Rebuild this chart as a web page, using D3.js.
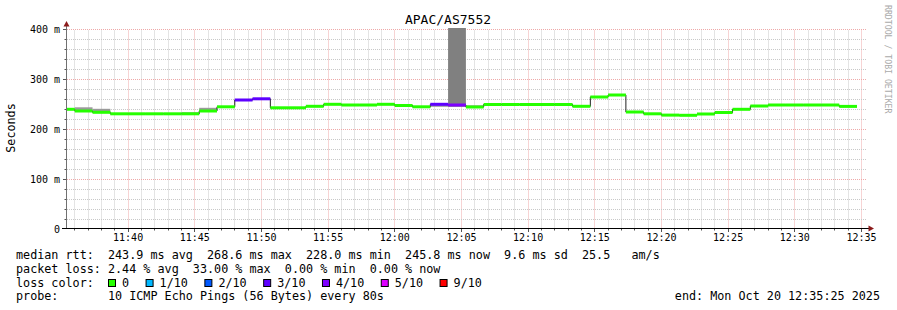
<!DOCTYPE html>
<html><head><meta charset="utf-8">
<script src="https://cdn.jsdelivr.net/npm/d3@7"></script>
<style>
body{margin:0;background:#fff}
svg{display:block}
text{font-family:"DejaVu Sans Mono",monospace;fill:#000;white-space:pre}
</style>
</head><body><svg id="c" width="897" height="310"></svg>
<script>
// ---------------- data ----------------
const chartTitle = "APAC/AS7552";
const yAxisTitle = "Seconds";
const watermark = "RRDTOOL / TOBI OETIKER";
const rangeStart = "11:35:25";
const rangeEnd = "12:35:25";
const stepSeconds = 80;
const pings = 10;
// end time of each 80 s step
const stepEnds = ["11:36:00","11:37:20","11:38:40","11:40:00","11:41:20","11:42:40","11:44:00","11:45:20","11:46:40","11:48:00",
  "11:49:20","11:50:40","11:52:00","11:53:20","11:54:40","11:56:00","11:57:20","11:58:40","12:00:00","12:01:20",
  "12:02:40","12:04:00","12:05:20","12:06:40","12:08:00","12:09:20","12:10:40","12:12:00","12:13:20","12:14:40",
  "12:16:00","12:17:20","12:18:40","12:20:00","12:21:20","12:22:40","12:24:00","12:25:20","12:26:40","12:28:00",
  "12:29:20","12:30:40","12:32:00","12:33:20","12:34:40"];
// median rtt in ms
const medianMs = [240,236.6,234,231,231,231,231,231,236.6,245,
  258.6,261,243,243,246,250,248.6,248.6,250,247.6,
  245,250,248.6,244.6,249.6,249.6,249.6,249.6,249.6,246,
  264.6,268.6,234.6,231,228.4,228,230.6,233.6,240,246.6,
  248.6,248.6,248.6,248.6,245.8];
// packet loss in %
const lossPct = [0,0,0,0,0,0,0,0,0,0,
  25,26,0,0,0,0,0,0,0,0,
  0,26,33,0,0,0,0,0,0,0,
  0,0,0,0,0,0,0,0,0,0,
  0,0,0,0,0];
// smoke (spread of individual pings) low / high in ms
const smokeLoMs = [239,235.6,233,230,230,230,230,230,235.6,244,
  257.6,260,242,242,245,249,247.6,247.6,249,244.6,
  242.6,245,245,243.6,248.6,248.6,248.6,248.6,248.6,245,
  263.6,267.6,233.6,230,227.4,227,229.6,232.6,239,245.6,
  247.6,247.6,247.6,247.6,244.8];
const smokeHiMs = [241,244,241,232,232,232,232,234,243,246,
  259.6,262,244,244,247,251,249.6,249.6,251,248.6,
  246,251,420,248,250.6,250.6,250.6,250.6,250.6,247,
  265.6,269.6,235.6,232,229.4,229,231.6,234.6,241,247.6,
  249.6,249.6,249.6,249.6,246.8];
const yTicks = [0,100,200,300,400];
const yTickLabels = ["0","100 m","200 m","300 m","400 m"];
const xTickLabels = ["11:40","11:45","11:50","11:55","12:00","12:05","12:10","12:15","12:20","12:25","12:30","12:35"];
const lossLevels = [0,1,2,3,4,5,9];
const lossLabels = ["0","1/10","2/10","3/10","4/10","5/10","9/10"];
const lossColors = ["#26ff00","#00b8ff","#0059ff","#5e00ff","#7e00ff","#dd00ff","#ff0000"];
const statsLine = "median rtt:  243.9 ms avg  268.6 ms max  228.0 ms min  245.8 ms now  9.6 ms sd  25.5   am/s";
const lossLine = "packet loss: 2.44 % avg  33.00 % max  0.00 % min  0.00 % now";
const probeLine = "probe:       10 ICMP Echo Pings (56 Bytes) every 80s";
const endLine = "end: Mon Oct 20 12:35:25 2025";

// ---------------- drawing ----------------
const svg = d3.select("#c");
const parseT = s => { const [h,m,sec] = s.split(":").map(Number); return new Date(2025,9,20,h,m,sec); };
const t0 = parseT(rangeStart), t1 = parseT(rangeEnd);
const X0 = 67, X1 = 867, Y0 = 229.3, YT = 29.3;
const x = d3.scaleTime().domain([t0,t1]).range([X0,X1]);
const y = d3.scaleLinear().domain([0,400]).range([Y0,YT]);
const snap = v => Math.round(v - 0.5) + 0.5;

const steps = stepEnds.map((s,i) => {
  const end = parseT(s);
  return {start:new Date(end.getTime()-stepSeconds*1000), end, med:medianMs[i], loss:lossPct[i], lo:smokeLoMs[i], hi:smokeHiMs[i]};
});

// grid
const grid = svg.append("g");
const minorMins = d3.timeMinute.range(d3.timeMinute.ceil(t0), t1);
minorMins.forEach(t => {
  const major = t.getMinutes() % 5 === 0;
  const xx = snap(x(t));
  grid.append("line").attr("x1",xx).attr("x2",xx).attr("y1",snap(Y0)).attr("y2",snap(YT))
    .attr("stroke", major ? "#eea8a8" : "#c8c8c8").attr("stroke-dasharray","1,1");
  grid.append("line").attr("x1",xx).attr("x2",xx).attr("y1",228.5).attr("y2", major?232:230.5)
    .attr("stroke","#555");
});
d3.range(20,401,20).forEach(v => {
  const major = v % 100 === 0;
  const yy = snap(y(v));
  grid.append("line").attr("x1",X0).attr("x2",X1).attr("y1",yy).attr("y2",yy)
    .attr("stroke", major ? "#eea8a8" : "#c8c8c8").attr("stroke-dasharray","1,1");
  grid.append("line").attr("x1", major?63:64.5).attr("x2",66).attr("y1",yy).attr("y2",yy).attr("stroke","#555");
});

// clip
svg.append("clipPath").attr("id","pc").append("rect").attr("x",X0).attr("y",28).attr("width",X1-X0).attr("height",Y0-28);
const plot = svg.append("g").attr("clip-path","url(#pc)");

// smoke
plot.selectAll("rect.smoke").data(steps).join("rect").attr("class","smoke")
  .attr("x", d => x(d.start)).attr("width", d => x(d.end)-x(d.start))
  .attr("y", d => y(d.hi)).attr("height", d => Math.max(0, y(d.lo)-y(d.hi)))
  .attr("fill", d => d.hi > 300 ? "#808080" : "#9a9a9a");

// median thin line
const pts = steps.map(d => [d.start, d.med]).concat([[steps[steps.length-1].end, steps[steps.length-1].med]]);
plot.append("path").attr("d", d3.line().x(d => x(d[0])).y(d => y(d[1])).curve(d3.curveStepAfter)(pts))
  .attr("fill","none").attr("stroke","#202020").attr("stroke-width",1);

// loss colored bands
const colorFor = l => {
  const n = l/100*pings; let last = -1;
  for (let i=0;i<lossLevels.length;i++){ if (n > last && n <= lossLevels[i]) return lossColors[i]; last = lossLevels[i]; }
  return lossColors[lossColors.length-1];
};
plot.selectAll("rect.band").data(steps).join("rect").attr("class","band")
  .attr("x", d => x(d.start)).attr("width", d => x(d.end)-x(d.start))
  .attr("y", d => y(d.med)-1.5).attr("height",3).attr("fill", d => colorFor(d.loss));

// axes
svg.append("line").attr("x1",66.5).attr("x2",66.5).attr("y1",229).attr("y2",25).attr("stroke","#707070");
svg.append("line").attr("x1",62).attr("x2",869).attr("y1",228.5).attr("y2",228.5).attr("stroke","#000");
svg.append("path").attr("d","M66.5,21 L69.5,26.5 L63.5,26.5 Z").attr("fill","#8b1a1a");
svg.append("path").attr("d","M874,228.5 L868.5,225.5 L868.5,231.5 Z").attr("fill","#8b1a1a");

// tick labels
yTicks.forEach((v,i) => {
  svg.append("text").attr("x", 60).attr("y", y(v)+3.5).attr("text-anchor","end")
    .style("font-size","10px").text(yTickLabels[i]);
});
xTickLabels.forEach(s => {
  const [h,m] = s.split(":").map(Number);
  svg.append("text").attr("x", x(new Date(2025,9,20,h,m,0))).attr("y",240.5).attr("text-anchor","middle")
    .style("font-size","10px").text(s);
});

// titles
svg.append("text").attr("x",448).attr("y",24).attr("text-anchor","middle").style("font-size","13px").text(chartTitle);
svg.append("text").attr("transform","translate(15,128) rotate(-90)").attr("text-anchor","middle")
  .style("font-size","11.75px").text(yAxisTitle);
svg.append("text").attr("transform","translate(885,5) rotate(90)").style("font-size","8.2px").style("fill","#aaa").text(watermark);

// legend
const LF = "11.75px";
svg.append("text").attr("x",16).attr("y",259).style("font-size",LF).text(statsLine);
svg.append("text").attr("x",16).attr("y",272.5).style("font-size",LF).text(lossLine);
svg.append("text").attr("x",16).attr("y",286.5).style("font-size",LF).text("loss color:");
let lx = 108;
lossLabels.forEach((lab,i) => {
  svg.append("rect").attr("x",lx+0.5).attr("y",279.5).attr("width",7).attr("height",7)
    .attr("fill",lossColors[i]).attr("stroke","#000").attr("stroke-width",1);
  const t = svg.append("text").attr("x",lx+14).attr("y",286.5).style("font-size",LF).text(lab);
  lx = lx + 14 + t.node().getComputedTextLength() + 16.5;
});
svg.append("text").attr("x",16).attr("y",300).style("font-size",LF).text(probeLine);
svg.append("text").attr("x",880).attr("y",300).attr("text-anchor","end").style("font-size",LF).text(endLine);
</script>
</body></html>
